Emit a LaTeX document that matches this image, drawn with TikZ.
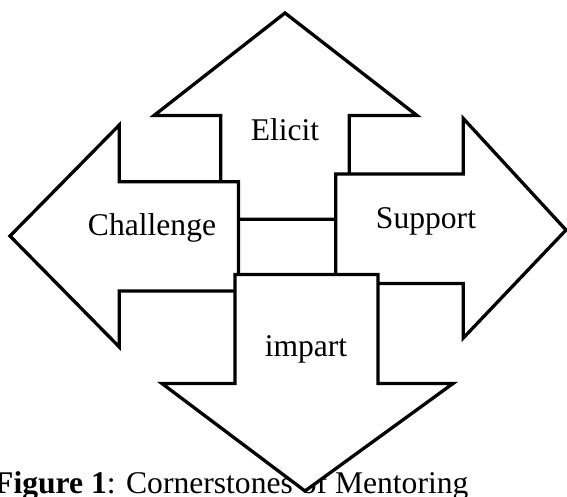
\documentclass[tikz,border=0pt]{standalone}
\usepackage{fontspec}
\setmainfont{Liberation Serif}
\begin{document}
\begin{tikzpicture}[x=1pt,y=-1pt,
  arrowshape/.style={draw=black,fill=white,line width=3.3pt,line join=miter},
  txt/.style={inner sep=0pt,font=\fontsize{31.6}{38}\selectfont},
  lbl/.style={txt,anchor=base}]
\useasboundingbox (0,0) rectangle (567,496);
\clip (0,0) rectangle (567,496);
% caption
\node[txt,anchor=base west] (cap) at (-6,493) {\textbf{Figure 1}: Cornerstones of Mentoring};
% Elicit (up)
\draw[arrowshape] (285,13) -- (417,115.5) -- (349.3,115.5) -- (349.3,219.3) -- (220.7,219.3) -- (220.7,115.5) -- (154,115.5) -- cycle;
% Challenge (left)
\draw[arrowshape] (10,236) -- (119.3,125) -- (119.3,181.7) -- (238.5,181.7) -- (238.5,291) -- (119.3,291) -- (119.3,347) -- cycle;
% Support (right)
\draw[arrowshape] (566,230) -- (463.3,118.5) -- (463.3,174) -- (335.8,174) -- (335.8,283.5) -- (463.3,283.5) -- (463.3,338) -- cycle;
% impart (down)
\draw[arrowshape] (235,274.5) -- (378,274.5) -- (378,383.5) -- (453,383.5) -- (305,491) -- (162,383.5) -- (235,383.5) -- cycle;
% labels
\node[lbl] (elicit) at (285,140) {Elicit};
\node[lbl] (challenge) at (152,235.5) {Challenge};
\node[lbl] (support) at (426,228.3) {Support};
\node[lbl] (impart) at (306,356) {impart};
\end{tikzpicture}
\end{document}
